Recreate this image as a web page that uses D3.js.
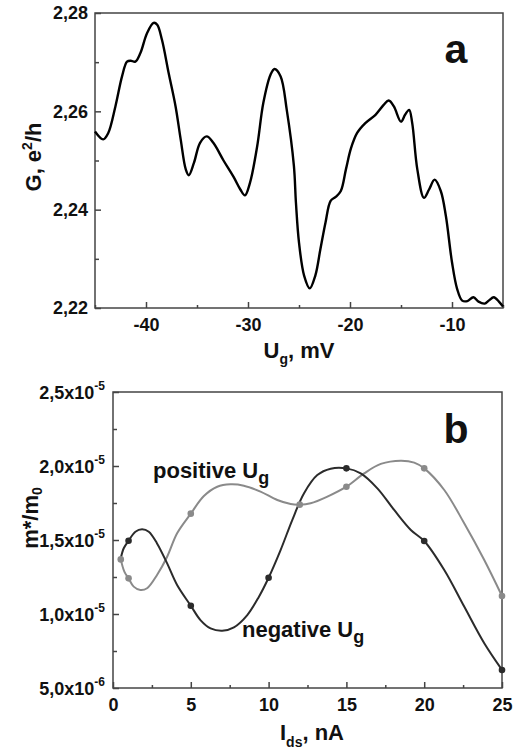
<!DOCTYPE html>
<html>
<head>
<meta charset="utf-8">
<script src="https://cdn.jsdelivr.net/npm/d3@7"></script>
<style>
  body { margin: 0; background: #fff; }
  svg text { font-family: "Liberation Sans", Arial, sans-serif; font-weight: bold; fill: #111; }
</style>
</head>
<body>
<div id="chart"></div>
<script>
// panel a: conductance vs gate voltage (mV, e^2/h)
var gateV = [-45, -44.2, -43.7, -43.0, -42.35, -41.86, -41.5, -41.05, -40.56, -39.9,
  -39.25, -38.9, -38.43, -37.78, -37.1, -36.6, -36.1, -35.8, -35.3, -34.7,
  -34.05, -33.4, -32.4, -31.4, -30.75, -30.3, -29.8, -29.1, -28.5, -27.8,
  -27.4, -26.8, -26.2, -25.5, -25.3, -25.0, -24.5, -23.95, -23.4, -22.9,
  -22.4, -21.9, -21.4, -20.9, -20.4, -19.9, -19.3, -18.5, -17.5, -16.7,
  -16.2, -15.7, -15.0, -14.6, -14.2, -13.9, -13.4, -12.75, -12.25, -11.7,
  -11.1, -10.6, -10.0, -9.5, -9.0, -8.5, -7.9, -7.4, -6.8, -6.4,
  -5.9, -5.4, -5.0];
var conductance = [2.2559, 2.2543, 2.2556, 2.2610, 2.2671, 2.2701, 2.2703, 2.2701, 2.2718, 2.2759,
  2.2780, 2.2776, 2.2745, 2.2678, 2.2610, 2.2543, 2.2482, 2.2470, 2.2495, 2.2536,
  2.2549, 2.2536, 2.2500, 2.2466, 2.2441, 2.2429, 2.2455, 2.2529, 2.2617, 2.2674,
  2.2686, 2.2671, 2.2603, 2.2489, 2.2414, 2.2333, 2.2266, 2.2240, 2.2266, 2.2320,
  2.2374, 2.2418, 2.2426, 2.2438, 2.2482, 2.2525, 2.2556, 2.2576, 2.2593, 2.2613,
  2.2622, 2.2610, 2.2579, 2.2593, 2.2603, 2.2576, 2.2482, 2.2424, 2.2441, 2.2461,
  2.2438, 2.2387, 2.2293, 2.2239, 2.2215, 2.2214, 2.2222, 2.2213, 2.2209, 2.2215,
  2.2222, 2.2213, 2.2203];
var xTicksA = [-40, -30, -20, -10];
var xMinorA = [-45, -35, -25, -15, -5];
var yTicksA = [2.22, 2.24, 2.26, 2.28];
var yMinorA = [2.23, 2.25, 2.27];

// panel b: effective mass vs current (nA, units of 1e-5)
var negCurveI = [0.5, 0.69, 1.0, 1.44, 1.87, 2.30, 2.83, 3.48, 4.12, 5.0, 5.62, 6.27, 7.02, 7.77,
  8.63, 9.38, 10.0, 10.77, 11.52, 12.27, 13.13, 13.99, 15.0, 15.92, 16.99, 18.07, 19.14, 20.0,
  21.29, 22.57, 23.86, 25.0];
var negCurveM = [1.376, 1.444, 1.495, 1.556, 1.572, 1.556, 1.477, 1.342, 1.196, 1.056, 0.959, 0.903, 0.887, 0.910,
  0.993, 1.117, 1.245, 1.432, 1.635, 1.815, 1.939, 1.982, 1.984, 1.950, 1.849, 1.703, 1.568, 1.493,
  1.297, 1.050, 0.802, 0.622];
var posCurveI = [0.5, 0.73, 1.0, 1.33, 1.76, 2.19, 2.83, 3.48, 4.12, 5.0, 5.84, 6.70, 7.55, 8.41,
  9.48, 10.56, 11.42, 12.0, 12.70, 13.78, 15.0, 16.14, 17.21, 18.50, 19.36, 20.0, 21.29, 22.57,
  23.86, 25.0];
var posCurveM = [1.369, 1.286, 1.241, 1.185, 1.162, 1.174, 1.264, 1.387, 1.545, 1.678, 1.797, 1.860, 1.876, 1.867,
  1.827, 1.770, 1.743, 1.739, 1.748, 1.793, 1.860, 1.950, 2.014, 2.036, 2.023, 1.984, 1.838, 1.613,
  1.365, 1.122];
var negPointsI = [1, 5, 10, 15, 20, 25];
var negPointsM = [1.495, 1.056, 1.245, 1.984, 1.493, 0.622];
var posPointsI = [0.5, 1, 5, 12, 15, 20, 25];
var posPointsM = [1.369, 1.241, 1.678, 1.739, 1.860, 1.984, 1.122];
var xTicksB = [0, 5, 10, 15, 20, 25];
var xMinorB = [2.5, 7.5, 12.5, 17.5, 22.5];
var yTicksB = [0.5, 1.0, 1.5, 2.0, 2.5];
var yTickMantB = ["5,0", "1,0", "1,5", "2,0", "2,5"];
var yTickExpB = ["-6", "-5", "-5", "-5", "-5"];
var yMinorB = [0.75, 1.25, 1.75, 2.25];

var W = 516, H = 749;
var svg = d3.select("#chart").append("svg").attr("width", W).attr("height", H);

// frame geometry of the two panels
var A = {left: 95, right: 503, top: 13, bottom: 308};
var B = {left: 113, right: 502, top: 392, bottom: 688};

var xA = d3.scaleLinear().domain([-45, -5]).range([A.left, A.right]);
var yA = d3.scaleLinear().domain([2.22, 2.28]).range([A.bottom, A.top]);
var xB = d3.scaleLinear().domain([0, 25]).range([B.left, B.right]);
var yB = d3.scaleLinear().domain([0.5, 2.5]).range([B.bottom, B.top]);

function frame(p) {
  svg.append("rect")
    .attr("x", p.left).attr("y", p.top)
    .attr("width", p.right - p.left).attr("height", p.bottom - p.top)
    .attr("fill", "none").attr("stroke", "#444").attr("stroke-width", 1.5);
}

function styleAxis(g) {
  g.select(".domain").remove();
  g.selectAll(".tick line").attr("stroke", "#444").attr("stroke-width", 1.5);
  g.selectAll(".tick text").attr("font-size", 18).attr("fill", "#111")
    .attr("font-family", "'Liberation Sans', Arial, sans-serif").attr("font-weight", "bold");
}

// ---- panel a ----
frame(A);
svg.append("g").attr("transform", "translate(0," + A.bottom + ")")
  .call(d3.axisBottom(xA).tickValues(xTicksA).tickSize(-6).tickPadding(10)
    .tickFormat(function(d) { return d3.format("d")(d).replace("−", "-"); }))
  .call(styleAxis);
svg.append("g").attr("transform", "translate(0," + A.bottom + ")")
  .call(d3.axisBottom(xA).tickValues(xMinorA).tickSize(-3).tickFormat(""))
  .call(styleAxis);
svg.append("g").attr("transform", "translate(" + A.left + ",0)")
  .call(d3.axisLeft(yA).tickValues(yTicksA).tickSize(-6).tickPadding(7)
    .tickFormat(function(d) { return d3.format(".2f")(d).replace(".", ","); }))
  .call(styleAxis);
svg.append("g").attr("transform", "translate(" + A.left + ",0)")
  .call(d3.axisLeft(yA).tickValues(yMinorA).tickSize(-4).tickFormat(""))
  .call(styleAxis);

var lineA = d3.line()
  .x(function(d) { return xA(d[0]); })
  .y(function(d) { return yA(d[1]); })
  .curve(d3.curveCatmullRom.alpha(0.5));
svg.append("path")
  .datum(d3.zip(gateV, conductance))
  .attr("d", lineA)
  .attr("fill", "none").attr("stroke", "#000").attr("stroke-width", 2.4);

svg.append("text").attr("x", 456).attr("y", 63).attr("text-anchor", "middle")
  .attr("font-size", 41).text("a");

// x title U_g, mV
var tA = svg.append("text").attr("x", 299).attr("y", 358).attr("text-anchor", "middle").attr("font-size", 22);
tA.append("tspan").text("U");
tA.append("tspan").attr("font-size", 14).attr("dy", 6).text("g");
tA.append("tspan").attr("dy", -6).text(", mV");

// y title G, e^2/h
var gA = svg.append("text").attr("transform", "translate(41,157) rotate(-90)")
  .attr("text-anchor", "middle").attr("font-size", 22);
gA.append("tspan").text("G, e");
gA.append("tspan").attr("font-size", 14).attr("dy", -9).text("2");
gA.append("tspan").attr("dy", 9).text("/h");

// ---- panel b ----
frame(B);
svg.append("g").attr("transform", "translate(0," + B.bottom + ")")
  .call(d3.axisBottom(xB).tickValues(xTicksB).tickSize(-6).tickPadding(10).tickFormat(d3.format("d")))
  .call(styleAxis);
svg.append("g").attr("transform", "translate(0," + B.bottom + ")")
  .call(d3.axisBottom(xB).tickValues(xMinorB).tickSize(-3).tickFormat(""))
  .call(styleAxis);
svg.append("g").attr("transform", "translate(" + B.left + ",0)")
  .call(d3.axisLeft(yB).tickValues(yTicksB).tickSize(-6).tickFormat(""))
  .call(styleAxis);
svg.append("g").attr("transform", "translate(" + B.left + ",0)")
  .call(d3.axisLeft(yB).tickValues(yMinorB).tickSize(-4).tickFormat(""))
  .call(styleAxis);

// y tick labels with powers of ten
yTicksB.forEach(function(v, i) {
  var t = svg.append("text").attr("x", B.left - 8).attr("y", yB(v) + 7)
    .attr("text-anchor", "end").attr("font-size", 18);
  t.append("tspan").text(yTickMantB[i] + "x10");
  t.append("tspan").attr("font-size", 12).attr("dy", -9).text(yTickExpB[i]);
});

var lineB = d3.line()
  .x(function(d) { return xB(d[0]); })
  .y(function(d) { return yB(d[1]); })
  .curve(d3.curveCatmullRom.alpha(0.5));

var posColor = "#8a8a8a", negColor = "#2b2b2b";
svg.append("path").datum(d3.zip(posCurveI, posCurveM)).attr("d", lineB)
  .attr("fill", "none").attr("stroke", posColor).attr("stroke-width", 2);
svg.append("path").datum(d3.zip(negCurveI, negCurveM)).attr("d", lineB)
  .attr("fill", "none").attr("stroke", negColor).attr("stroke-width", 2);

svg.selectAll("circle.neg").data(d3.zip(negPointsI, negPointsM)).enter()
  .append("circle").attr("class", "neg")
  .attr("cx", function(d) { return xB(d[0]); })
  .attr("cy", function(d) { return yB(d[1]); })
  .attr("r", 3.3).attr("fill", negColor);
svg.selectAll("circle.pos").data(d3.zip(posPointsI, posPointsM)).enter()
  .append("circle").attr("class", "pos")
  .attr("cx", function(d) { return xB(d[0]); })
  .attr("cy", function(d) { return yB(d[1]); })
  .attr("r", 3.3).attr("fill", posColor);

function curveLabel(x, y, word) {
  var t = svg.append("text").attr("x", x).attr("y", y).attr("font-size", 22);
  t.append("tspan").text(word + " U");
  t.append("tspan").attr("font-size", 18).attr("dy", 6).text("g");
}
curveLabel(153, 478, "positive");
curveLabel(242, 637, "negative");

svg.append("text").attr("x", 456).attr("y", 443).attr("text-anchor", "middle")
  .attr("font-size", 41).text("b");

// x title I_ds, nA
var tB = svg.append("text").attr("x", 312).attr("y", 740).attr("text-anchor", "middle").attr("font-size", 22);
tB.append("tspan").text("I");
tB.append("tspan").attr("font-size", 14).attr("dy", 7).text("ds");
tB.append("tspan").attr("dy", -7).text(", nA");

// y title m*/m0
var mB = svg.append("text").attr("transform", "translate(38,518) rotate(-90)")
  .attr("text-anchor", "middle").attr("font-size", 22);
mB.append("tspan").text("m*/m");
mB.append("tspan").attr("font-size", 14).attr("dy", 4).text("0");
</script>
</body>
</html>
